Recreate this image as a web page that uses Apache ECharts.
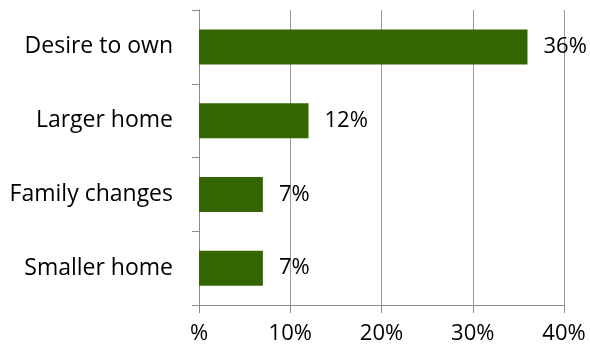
<!DOCTYPE html>
<html><head><meta charset="utf-8">
<script src="https://cdn.jsdelivr.net/npm/echarts@6/dist/echarts.min.js"></script>
<style>html,body{margin:0;padding:0;background:#fff}#c{width:590px;height:349px}</style>
</head><body><div id="c"></div>
<script>
const categories = ["Desire to own", "Larger home", "Family changes", "Smaller home"];
const values = [36, 12, 7, 7];
const tickLabels = {0: "%", 10: "10%", 20: "20%", 30: "30%", 40: "40%"};

const chart = echarts.init(document.getElementById('c'));
const font = '"Open Sans", sans-serif';
chart.setOption({
  animation: false,
  grid: {left: 199, right: 26, top: 10, bottom: 44},
  xAxis: {
    type: 'value', min: 0, max: 40, interval: 10,
    axisLine: {show: true, lineStyle: {color: '#8c8c8c', width: 1}},
    axisTick: {show: true, length: 8, lineStyle: {color: '#8c8c8c'}},
    splitLine: {show: true, lineStyle: {color: '#9a9a9a', width: 1}},
    axisLabel: {formatter: v => tickLabels[v], fontSize: 22, color: '#000', fontFamily: font, margin: 18}
  },
  yAxis: {
    type: 'category', data: categories, inverse: true,
    axisLine: {show: true, lineStyle: {color: '#8c8c8c', width: 1}},
    axisTick: {show: true, length: 7, alignWithLabel: false, lineStyle: {color: '#8c8c8c'}},
    axisLabel: {fontSize: 23, color: '#000', fontFamily: font, margin: 26}
  },
  series: [{
    type: 'bar', data: values, barWidth: 35,
    itemStyle: {color: '#336600'},
    label: {show: true, position: 'right', distance: 16, formatter: p => p.value + '%', fontSize: 22, color: '#000', fontFamily: font}
  }]
});
</script></body></html>
